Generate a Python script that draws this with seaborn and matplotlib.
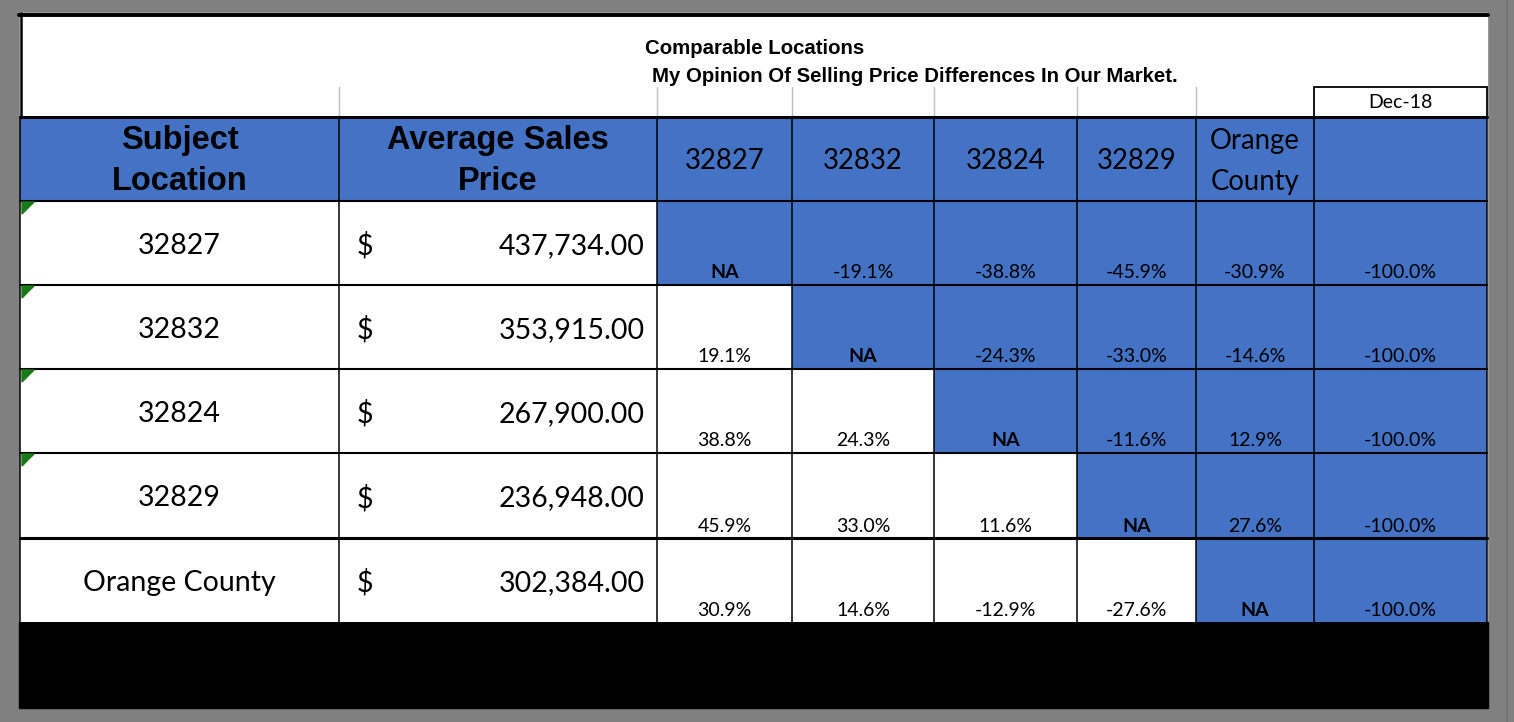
import numpy as np
import seaborn as sns
import matplotlib.pyplot as plt
from matplotlib.colors import ListedColormap
from matplotlib.patches import Rectangle, Polygon

# ---- data ----
title_lines = ['Comparable Locations', 'My Opinion Of Selling Price Differences In Our Market.']
date_label = 'Dec-18'
header_left = ['Subject\nLocation', 'Average Sales\nPrice']
comp_headers = ['32827', '32832', '32824', '32829', 'Orange\nCounty', '']
locations = ['32827', '32832', '32824', '32829', 'Orange County']
avg_price = [437734.00, 353915.00, 267900.00, 236948.00, 302384.00]
# percent difference vs. comparable location, nan = NA
diff_32827 = [np.nan, 19.1, 38.8, 45.9, 30.9]
diff_32832 = [-19.1, np.nan, 24.3, 33.0, 14.6]
diff_32824 = [-38.8, -24.3, np.nan, 11.6, -12.9]
diff_32829 = [-45.9, -33.0, -11.6, np.nan, -27.6]
diff_orange = [-30.9, -14.6, 12.9, 27.6, np.nan]
diff_dec18 = [-100.0, -100.0, -100.0, -100.0, -100.0]
diffs = np.column_stack([diff_32827, diff_32832, diff_32824, diff_32829, diff_orange, diff_dec18])

BLUE = '#4472C4'
GRAY = '#808080'
SANS = ['Liberation Sans', 'DejaVu Sans']
CAL = ['Lato', 'DejaVu Sans']

sns.set_style('white')
plt.rcParams['text.color'] = 'black'

# layout in pixels
col_edges = np.array([20, 339, 657, 792, 934, 1077, 1196, 1314, 1487])
row_edges = np.array([117, 201, 285, 369, 453, 538, 622])
L, R = col_edges[0], col_edges[-1]

fig = plt.figure(figsize=(15.14, 7.22), dpi=100, facecolor=GRAY)
ax = fig.add_axes([0, 0, 1, 1])
ax.set_xlim(0, 1514)
ax.set_ylim(722, 0)
ax.axis('off')

# white panel + black foot
ax.add_patch(Rectangle((L, 13), R - L, row_edges[-1] - 13, color='white', zorder=0))
ax.add_patch(Rectangle((L - 1, row_edges[-1]), R - L + 2, 708 - row_edges[-1], color='black', zorder=0))
ax.plot([1507, 1507], [0, 722], color='#6e6e6e', lw=1.2, zorder=0)

# cell fills: header row all blue, upper triangle of the comparison grid blue
n = len(locations)
fill = np.zeros((n + 1, len(col_edges) - 1))
fill[0, :] = 1
for i in range(n):
    for j in range(diffs.shape[1]):
        if j >= i:
            fill[i + 1, j + 2] = 1
ax.pcolormesh(col_edges, row_edges, fill, cmap=ListedColormap(['white', BLUE]),
              vmin=0, vmax=1, zorder=1)

# grid lines
for x in col_edges:
    ax.plot([x, x], [row_edges[0], row_edges[-1]], color='black', lw=1.1, zorder=3)
for k, y in enumerate(row_edges[:-1]):
    lw = 2.2 if k in (0, 5) else 1.5
    ax.plot([L, R], [y, y], color='black', lw=lw, zorder=3)
for x in col_edges[1:-2]:
    ax.plot([x, x], [87, row_edges[0]], color='#bfbfbf', lw=1.0, zorder=2)
ax.plot([L - 1, R + 1], [14.5, 14.5], color='black', lw=2.8, zorder=3)
ax.plot([L + 0.5, L + 0.5], [13, row_edges[0]], color='black', lw=1.8, zorder=3)
ax.add_patch(Rectangle((col_edges[-2], 87), R - col_edges[-2], row_edges[0] - 87,
                       fill=False, ec='black', lw=1.3, zorder=3))

# titles
ax.text(645, 49, title_lines[0], family=SANS, weight='bold', fontsize=14.7, va='center', ha='left')
ax.text(652, 76, title_lines[1], family=SANS, weight='bold', fontsize=14.7, va='center', ha='left')
ax.text((col_edges[-2] + R) / 2, 102, date_label, family=CAL, fontsize=14, va='center', ha='center')

# header row
for j, h in enumerate(header_left):
    cx = (col_edges[j] + col_edges[j + 1]) / 2
    for k, line in enumerate(h.split('\n')):
        ax.text(cx, 141 + 40 * k, line, family=SANS, weight='bold', fontsize=23.5,
                va='center', ha='center', zorder=4)
for j, h in enumerate(comp_headers):
    cx = (col_edges[j + 2] + col_edges[j + 3]) / 2
    parts = h.split('\n')
    if len(parts) == 1:
        ax.text(cx, 161, parts[0], family=CAL, fontsize=19.8, va='center', ha='center', zorder=4)
    else:
        for k, line in enumerate(parts):
            ax.text(cx, 141 + 41 * k, line, family=CAL, fontsize=19.8, va='center', ha='center', zorder=4)

# body rows
for i in range(n):
    top, bot = row_edges[i + 1], row_edges[i + 2]
    cy = (top + bot) / 2 + 3
    ax.text((col_edges[0] + col_edges[1]) / 2, cy, locations[i], family=CAL, fontsize=20.5,
            va='center', ha='center', zorder=4)
    ax.text(357, cy, '$', family=CAL, fontsize=20.5, va='center', ha='left', zorder=4)
    ax.text(645, cy, f'{avg_price[i]:,.2f}', family=CAL, fontsize=20.5, va='center', ha='right', zorder=4)
    if i < 4:
        ax.add_patch(Polygon([(22, top + 1), (34, top + 1), (22, top + 13)], color='#1a7a1a', zorder=4))
    for j in range(diffs.shape[1]):
        cx = (col_edges[j + 2] + col_edges[j + 3]) / 2
        v = diffs[i, j]
        if np.isnan(v):
            ax.text(cx, bot - 12, 'NA', family=CAL, weight='bold', fontsize=14,
                    va='center', ha='center', zorder=4)
        else:
            ax.text(cx, bot - 12, f'{v:.1f}%', family=CAL, fontsize=14,
                    va='center', ha='center', zorder=4)

fig.savefig('out.png', dpi=100, facecolor=GRAY)
